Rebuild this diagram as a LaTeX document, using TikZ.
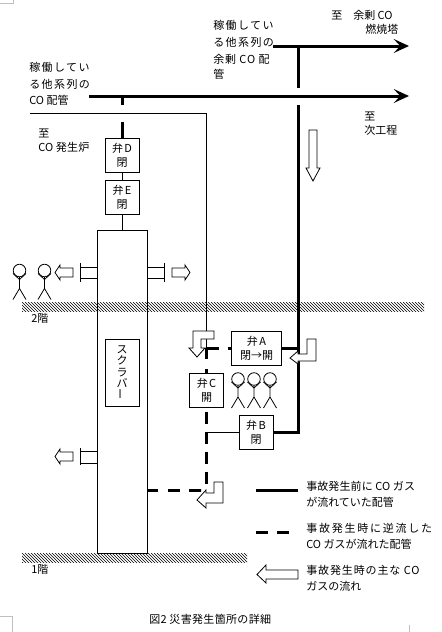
\documentclass[tikz,border=0pt]{standalone}
\usepackage{fontspec}
\usepackage{graphicx}
\usetikzlibrary{arrows.meta}
\newfontfamily\cjk{Noto Sans CJK JP}
\newcommand\spc[2]{{\addfontfeature{LetterSpace=#1}#2}}
\tikzset{
  lbl/.style={anchor=west,inner sep=0pt,font=\cjk\fontsize{8.25}{10.5}\selectfont},
  valve/.style={draw,line width=.75pt,fill=white,inner sep=0pt,minimum width=25.5pt,minimum height=25.5pt,align=center,font=\cjk\fontsize{8.25}{10.5}\selectfont},
  thinp/.style={line width=.75pt},
  thickp/.style={line width=2.25pt},
  thickd/.style={line width=2.25pt},
  mainp/.style={line width=2.25pt,-{Stealth[length=11.5pt,width=10.5pt,inset=5pt]}},
  blk/.style={draw,fill=white,line width=.6pt},
  pagemark/.style={draw=gray!50,line width=.75pt}
}
\newcommand\person[2]{%
  \draw[line width=.6pt] (#1,#2) circle[radius=4.7pt];
  \draw[line width=.6pt] (#1,#2+6.3)--(#1,#2+18) (#1-6.5,#2+3)--(#1,#2+9)--(#1+6.5,#2+3) (#1-6.5,#2+29)--(#1,#2+18)--(#1+6.5,#2+29);}
\newcommand\hatchband[3]{%
  \begin{scope}
    \clip (#1,#2) rectangle (#3,#2+9);
    \foreach \i in {0,3,...,420}{\draw[line width=.3pt] (#1+\i-9,#2)--(#1+\i+9,#2+18);}
  \end{scope}}
\begin{document}
\begin{tikzpicture}[x=0.75pt,y=-0.75pt]
\useasboundingbox (0,0) rectangle (442,632);
% page marks
\draw[pagemark] (0,3)--(13,3)--(13,0);
\draw[pagemark] (0,616)--(12.5,616)--(12.5,632);
\draw[pagemark] (409,625)--(409,632);
% floors
\hatchband{22}{302}{424}
\hatchband{22}{553}{247}
% nodes
\node[valve] (D) at (122,155) {弁\hspace{1pt}D\\閉};
\node[valve] (E) at (122,197) {弁\hspace{1pt}E\\閉};
\node[valve,minimum width=37.5pt] (A) at (256.5,348) {弁\hspace{1pt}A\\閉→開};
\node[valve] (C) at (206.5,390) {弁\hspace{1pt}C\\開};
\node[valve] (B) at (256,432) {弁\hspace{1pt}B\\閉};
% column
\node[draw,line width=.75pt,inner sep=0pt,minimum width=37.5pt,minimum height=242.25pt] (col) at (122.5,391.5) {};
\node[draw,line width=.75pt,inner sep=0pt,minimum width=25.5pt,minimum height=50.25pt,align=center,font=\cjk\fontsize{8.25}{8.6}\selectfont] (scr) at (122,372.5) {ス\\ク\\ラ\\バ\\\rotatebox{90}{ー}};
% coordinates
\coordinate (p1L) at (89,96);\coordinate (p1R) at (409,96);
\coordinate (p2L) at (273,46);\coordinate (p2R) at (409,46);
\coordinate (p2J) at (298,46);\coordinate (p2G) at (298,88);
\coordinate (p3G) at (298,105);\coordinate (p3B) at (298,432);\coordinate (p3A) at (298,348);
\coordinate (dT) at (122,96);
\coordinate (tL) at (30,113);\coordinate (tC) at (206.5,113);\coordinate (jT) at (206.5,348);
\coordinate (jB) at (206.5,432);\coordinate (jE) at (206.5,486);\coordinate (hE) at (201,490);\coordinate (hS) at (148,490);
\coordinate (lg1a) at (256,490);\coordinate (lg1b) at (298,490);
\coordinate (lg2a) at (256,532);\coordinate (lg2b) at (289,532);
% pipes
\draw[mainp] (p1L)--(p1R);
\draw[mainp] (p2L)--(p2R);
\draw[thickp] (p2J)--(p2G);
\draw[thickp] (p3G)--(p3B)--(B.east);
\draw[thickp] (A.east)--(p3A);
\draw[thickd,dash pattern=on 6.75pt off 12.75pt on 15pt off 0pt] (dT)--(D.north);
\draw[thinp] (D)--(E);
\draw[thinp] (E)--(E|-col.north);
\draw[thinp] (tL)--(tC)--(jT);
\draw[thickd,dash pattern=on 9pt off 6.75pt] (jT)--(A.west);
\draw[thickd,dash pattern=on 8.25pt off 7.5pt] (jT)--(C.north);
\draw[thickd,dash pattern=on 9pt off 6pt,dash phase=12pt] (C.south)--(jE);
\draw[thinp] (jB)--(B.west);
\draw[thickd,dash pattern=on 7.5pt off 7.5pt on 9pt off 6.75pt on 9pt off 0pt] (hS)--(hE);
% stubs
\draw[thinp] (97.5,267)--(80.5,267) (97.5,278)--(80.5,278) (80.5,263)--(80.5,282);
\draw[thinp] (147.5,267)--(164.5,267) (147.5,278)--(164.5,278) (164.5,263)--(164.5,282);
\draw[thinp] (97.5,451)--(80.5,451) (97.5,463)--(80.5,463) (80.5,448)--(80.5,465);
% block arrows
\draw[blk] (73,268)--(60,268)--(60,265)--(55,272.5)--(60,280)--(60,277)--(73,277)--cycle;
\draw[blk] (172,268)--(185,268)--(185,265)--(190,272.5)--(185,280)--(185,277)--(172,277)--cycle;
\draw[blk] (73,452)--(60,452)--(60,449)--(55,456.5)--(60,464)--(60,461)--(73,461)--cycle;
\draw[blk] (309,130)--(317,130)--(317,168)--(320,168)--(313,181)--(306,168)--(309,168)--cycle;
\draw[blk] (307,339)--(316,339)--(316,361)--(298,361)--(298,364)--(290,358)--(298,351)--(298,354)--(307,354)--cycle;
\draw[blk] (214,331)--(193,331)--(193,348)--(189,348)--(197,357)--(205,348)--(201,348)--(201,339)--(214,339)--cycle;
\draw[blk] (223,482)--(214,482)--(214,493)--(206,493)--(206,490)--(197,500)--(206,508)--(206,503)--(223,503)--cycle;
\draw[blk] (298,570)--(266,570)--(266,565)--(257,574.5)--(266,583)--(266,579)--(298,579)--cycle;
% people
\person{19.5}{270.5}
\person{44.5}{270.5}
\person{238}{379}
\person{254}{379}
\person{270}{379}
% legend lines
\draw[thickp] (lg1a)--(lg1b);
\draw[thickd,dash pattern=on 9pt off 6.75pt] (lg2a)--(lg2b);
% texts
\node[lbl] (t1) at (29,67) {\spc{13}{稼働してい}};
\node[lbl] (t2) at (29,84) {\spc{13}{る他系列の}};
\node[lbl] (t3) at (29,100) {CO 配管};
\node[lbl] (u1) at (213,25) {\spc{13}{稼働してい}};
\node[lbl] (u2) at (213,42) {\spc{13}{る他系列の}};
\node[lbl] (u3) at (213,59) {\spc{8}{余剰 CO 配}};
\node[lbl] (u4) at (213,74) {管};
\node[lbl] (v1) at (331,15) {至};
\node[lbl] (v2) at (353,15) {余剰 CO};
\node[lbl] (v3) at (365,29) {燃焼塔};
\node[lbl] (w1) at (364,116) {至};
\node[lbl] (w2) at (364,130) {次工程};
\node[lbl] (x1) at (38,133) {至};
\node[lbl] (x2) at (38,147) {\spc{2}{CO 発生炉}};
\node[lbl] (f2) at (31,318) {2階};
\node[lbl] (f1) at (31,569) {1階};
\node[lbl] (l1) at (306,486) {\spc{1}{事故発生前に CO ガス}};
\node[lbl] (l2) at (306,502) {が流れていた配管};
\node[lbl] (l3) at (306,528) {\spc{16}{事故発生時に逆流した}};
\node[lbl] (l4) at (306,544) {CO ガスが流れた配管};
\node[lbl] (l5) at (306,570) {\spc{8}{事故発生時の主な CO}};
\node[lbl] (l6) at (306,586) {ガスの流れ};
\node[lbl] (cap) at (149,619) {\spc{3}{図2 災害発生箇所の詳細}};
\end{tikzpicture}
\end{document}
